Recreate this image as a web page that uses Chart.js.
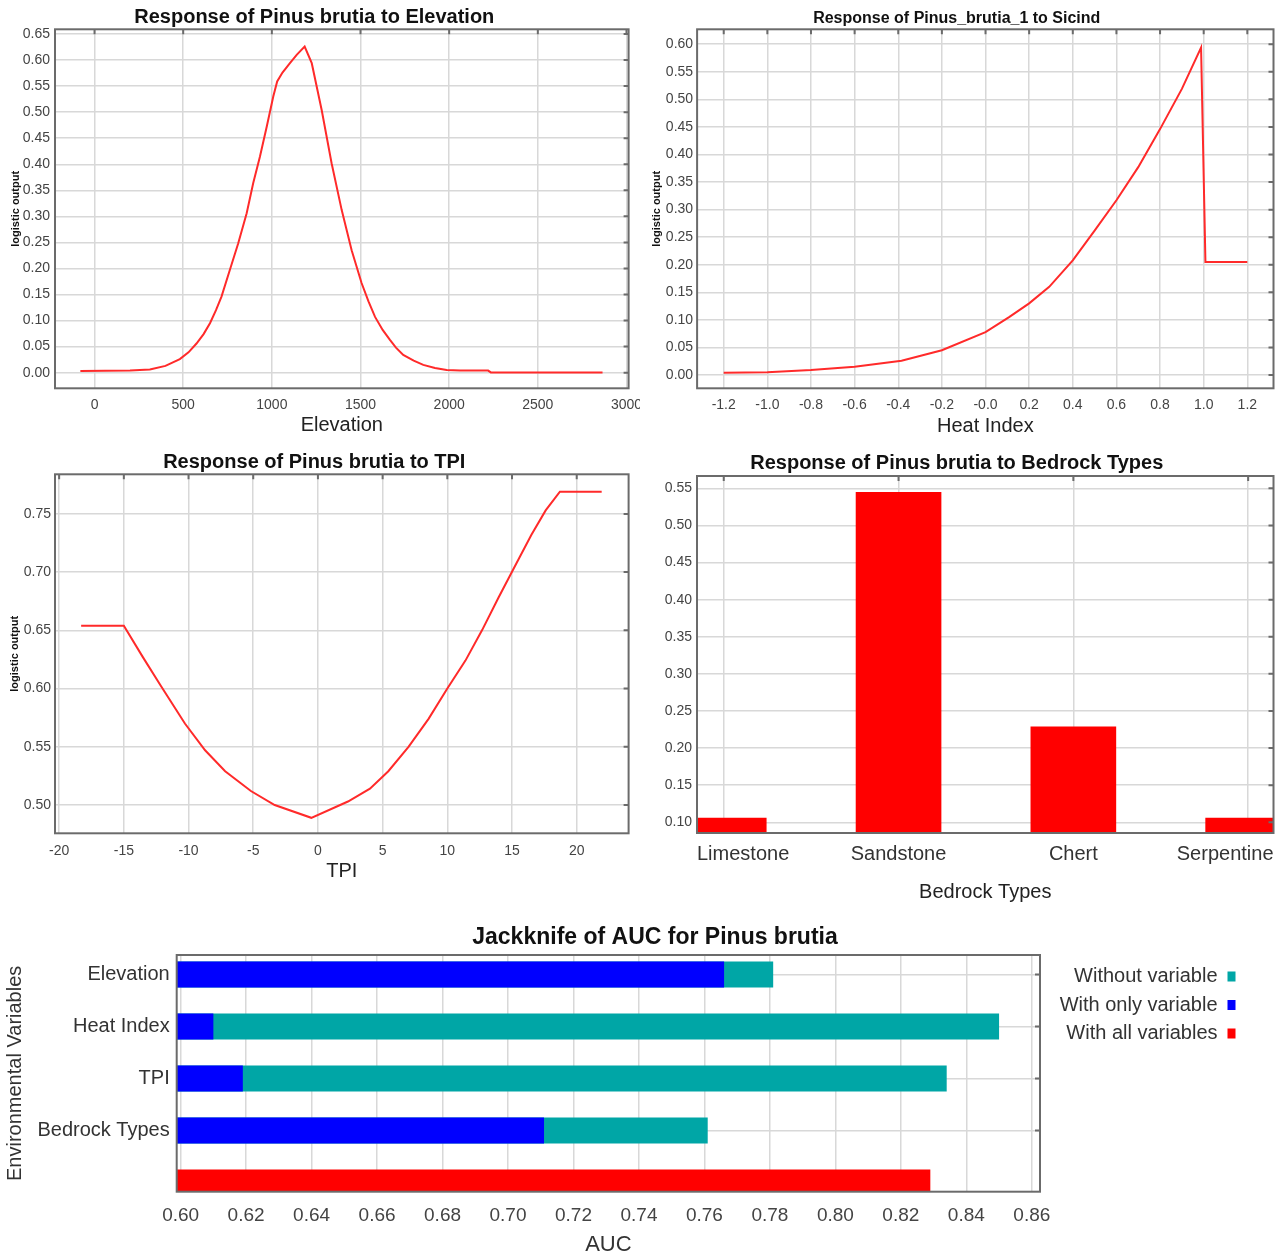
<!DOCTYPE html>
<html>
<head>
<meta charset="utf-8">
<title>Pinus brutia response curves</title>
<script src="https://cdn.jsdelivr.net/npm/chart.js@4.4.1/dist/chart.umd.min.js"></script>
<style>
  html, body { margin: 0; padding: 0; background: #ffffff; overflow: hidden; }
  canvas { position: absolute; }
</style>
</head>
<body>
<canvas id="elevChart" width="640" height="440" style="left:0px;top:0px"></canvas>
<canvas id="heatChart" width="637" height="440" style="left:640px;top:0px"></canvas>
<canvas id="tpiChart" width="640" height="450" style="left:0px;top:440px"></canvas>
<canvas id="bedrockChart" width="637" height="470" style="left:640px;top:440px"></canvas>
<canvas id="jackChart" width="1310" height="348" style="left:0px;top:910px"></canvas>
<script>
// values
var elevX = [-80, 200, 312, 400, 481, 530, 575, 615, 651, 685, 716, 763, 810, 858, 895, 933, 971, 1008, 1030, 1060, 1102, 1140,
             1185, 1225, 1281, 1337, 1394, 1450, 1506, 1545, 1582, 1625, 1666, 1700, 1741, 1800, 1854, 1920, 1986, 2061, 2220, 2235, 2865];
var elevY = [0.003, 0.004, 0.006, 0.013, 0.026, 0.039, 0.056, 0.074, 0.095, 0.120, 0.146, 0.197, 0.248, 0.306, 0.364, 0.415, 0.472, 0.530, 0.559, 0.576, 0.594, 0.610,
             0.626, 0.594, 0.504, 0.402, 0.312, 0.235, 0.172, 0.137, 0.107, 0.082, 0.063, 0.048, 0.034, 0.023, 0.015, 0.009, 0.005, 0.004, 0.004, 0.0005, 0.0005];

var heatX = [-1.2, -1.0, -0.8, -0.6, -0.385, -0.2, 0.0, 0.108, 0.2, 0.292, 0.4, 0.5, 0.6, 0.7, 0.8, 0.9, 0.988, 1.008, 1.2];
var heatY = [0.004, 0.005, 0.009, 0.015, 0.026, 0.045, 0.078, 0.105, 0.130, 0.160, 0.208, 0.262, 0.317, 0.377, 0.446, 0.519, 0.594, 0.205, 0.205];

var tpiX = [-18.3, -15.0, -13.53, -12.12, -10.28, -8.72, -7.17, -5.18, -3.34, -0.51, 2.32, 4.02, 5.44, 7.0, 8.55, 10.0,
            11.4, 12.68, 13.95, 15.08, 16.5, 17.6, 18.7, 21.93];
var tpiY = [0.654, 0.654, 0.627, 0.602, 0.570, 0.547, 0.529, 0.512, 0.500, 0.489, 0.503, 0.514, 0.529, 0.550, 0.574, 0.600,
            0.624, 0.650, 0.678, 0.702, 0.732, 0.753, 0.769, 0.769];

var bedrockTypes = ['Limestone', 'Sandstone', 'Chert', 'Serpentine'];
var bedrockY = [0.106, 0.545, 0.229, 0.106];

var jkVars = ['Elevation', 'Heat Index', 'TPI', 'Bedrock Types'];
var jkWithout = [0.781, 0.850, 0.834, 0.761];
var jkWithOnly = [0.766, 0.610, 0.619, 0.711];
var jkAll = 0.829;

// tick labels
var elevXTicks = [0, 500, 1000, 1500, 2000, 2500, 3000];
var elevYTicks = [0, 0.05, 0.10, 0.15, 0.20, 0.25, 0.30, 0.35, 0.40, 0.45, 0.50, 0.55, 0.60, 0.65];
var heatXTicks = [-1.2, -1.0, -0.8, -0.6, -0.4, -0.2, 0, 0.2, 0.4, 0.6, 0.8, 1.0, 1.2];
var heatXLabels = ['-1.2', '-1.0', '-0.8', '-0.6', '-0.4', '-0.2', '-0.0', '0.2', '0.4', '0.6', '0.8', '1.0', '1.2'];
var heatYTicks = [0, 0.05, 0.10, 0.15, 0.20, 0.25, 0.30, 0.35, 0.40, 0.45, 0.50, 0.55, 0.60];
var tpiXTicks = [-20, -15, -10, -5, 0, 5, 10, 15, 20];
var tpiYTicks = [0.50, 0.55, 0.60, 0.65, 0.70, 0.75];
var bedrockYTicks = [0.10, 0.15, 0.20, 0.25, 0.30, 0.35, 0.40, 0.45, 0.50, 0.55];
var jkXTicks = [0.60, 0.62, 0.64, 0.66, 0.68, 0.70, 0.72, 0.74, 0.76, 0.78, 0.80, 0.82, 0.84, 0.86];

var FONT = "'Liberation Sans', Arial, sans-serif";
var GRID = '#d8d8d8';
var FRAME = '#6b6b6b';
var TICK = '#444444';
var LINE_RED = '#ff2a2a';

Chart.defaults.font.family = FONT;

function tickList(values) {
  return function (scale) {
    scale.ticks = values.map(function (v) { return { value: v }; });
  };
}
// fixed axis size, and no extra room asked for labels hanging over the ends
function fixHeight(h) {
  return function (sc) { sc.height = h; sc.paddingLeft = 0; sc.paddingRight = 0; };
}
function fixWidth(w) {
  return function (sc) { sc.width = w; sc.paddingTop = 0; sc.paddingBottom = 0; };
}
function pairs(xs, ys) {
  return xs.map(function (x, i) { return { x: x, y: ys[i] }; });
}
function twoDec(v) { return v.toFixed(2); }
function plain(v) { return String(v); }

// box round the plot area, with small inner tick marks like the Maxent output
var framePlugin = {
  id: 'frame',
  afterDraw: function (chart, args, opts) {
    var a = chart.chartArea, ctx = chart.ctx, xs = chart.scales.x, ys = chart.scales.y;
    ctx.save();
    ctx.strokeStyle = FRAME;
    ctx.lineWidth = 2;
    ctx.beginPath();
    if (opts.top) {
      xs.ticks.forEach(function (t) {
        var px = xs.getPixelForValue(t.value);
        ctx.moveTo(px, a.top); ctx.lineTo(px, a.top + 5);
      });
    }
    if (opts.right) {
      ys.ticks.forEach(function (t) {
        var py = ys.getPixelForValue(t.value);
        ctx.moveTo(a.right, py); ctx.lineTo(a.right - 5, py);
      });
    }
    ctx.stroke();
    ctx.strokeRect(a.left, a.top, a.right - a.left, a.bottom - a.top);
    ctx.restore();
  }
};

function responseOptions(s) {
  return {
    responsive: false,
    animation: false,
    layout: { padding: { top: 0, left: 0, bottom: 0, right: s.padRight }, autoPadding: false },
    plugins: {
      legend: { display: false },
      tooltip: { enabled: false },
      title: {
        display: true, text: s.title, color: '#111111',
        font: { family: FONT, size: s.titleSize, weight: 'bold' },
        padding: s.titlePad
      },
      frame: { top: true, right: true }
    },
    scales: {
      x: {
        type: 'linear', min: s.xMin, max: s.xMax, offset: false,
        afterBuildTicks: tickList(s.xTicks),
        afterFit: fixHeight(s.xHeight),
        border: { display: false },
        grid: { color: GRID, lineWidth: 1.5, drawTicks: false, offset: false },
        ticks: {
          display: s.xTickDisplay !== false, autoSkip: false, maxRotation: 0,
          padding: s.xTickPad, color: TICK, font: { family: FONT, size: 14 }, callback: s.xFormat
        },
        title: {
          display: true, text: s.xTitle, color: '#222222',
          font: { family: FONT, size: 20 }, padding: { top: 0, bottom: s.xTitlePad }
        }
      },
      y: {
        type: 'linear', min: s.yMin, max: s.yMax,
        afterBuildTicks: tickList(s.yTicks),
        afterFit: fixWidth(s.yWidth),
        border: { display: false },
        grid: { color: GRID, lineWidth: 1.5, drawTicks: false },
        ticks: { autoSkip: false, padding: s.yTickPad, color: TICK, font: { family: FONT, size: 14 }, callback: twoDec },
        title: {
          display: !!s.yTitle, text: s.yTitle || '', color: '#111111',
          font: { family: FONT, size: 11, weight: 'bold' }, padding: { top: s.yTitlePad || 0, bottom: 0 }
        }
      }
    }
  };
}

function lineData(xs, ys) {
  return {
    datasets: [{
      data: pairs(xs, ys),
      borderColor: LINE_RED,
      borderWidth: 2,
      pointRadius: 0,
      tension: 0
    }]
  };
}

// Elevation
new Chart(document.getElementById('elevChart'), {
  type: 'line',
  data: lineData(elevX, elevY),
  plugins: [framePlugin],
  options: responseOptions({
    title: 'Response of Pinus brutia to Elevation', titleSize: 20, titlePad: { top: 5, bottom: 0.3 },
    padRight: 11.4, xHeight: 51.7, yWidth: 55,
    xMin: -223, xMax: 3012, xTicks: elevXTicks, xFormat: plain, xTickPad: 8, xTitle: 'Elevation', xTitlePad: 3,
    yMin: -0.030, yMax: 0.659, yTicks: elevYTicks, yTickPad: 5, yTitle: 'logistic output', yTitlePad: 9
  })
});

// Heat index
new Chart(document.getElementById('heatChart'), {
  type: 'line',
  data: lineData(heatX, heatY),
  plugins: [framePlugin],
  options: responseOptions({
    title: 'Response of Pinus_brutia_1 to Sicind', titleSize: 16, titlePad: { top: 9.4, bottom: 0.7 },
    padRight: 3.5, xHeight: 51.7, yWidth: 57.1,
    xMin: -1.322, xMax: 1.32, xTicks: heatXTicks,
    xFormat: function (v, i) { return heatXLabels[i]; }, xTickPad: 8, xTitle: 'Heat Index', xTitlePad: 2,
    yMin: -0.024, yMax: 0.627, yTicks: heatYTicks, yTickPad: 4, yTitle: 'logistic output', yTitlePad: 10.5
  })
});

// TPI
new Chart(document.getElementById('tpiChart'), {
  type: 'line',
  data: lineData(tpiX, tpiY),
  plugins: [framePlugin],
  options: responseOptions({
    title: 'Response of Pinus brutia to TPI', titleSize: 20, titlePad: { top: 10.3, bottom: 0 },
    padRight: 11.4, xHeight: 56.7, yWidth: 55,
    xMin: -20.32, xMax: 24.01, xTicks: tpiXTicks, xFormat: plain, xTickPad: 9, xTitle: 'TPI', xTitlePad: 6.3,
    yMin: 0.4757, yMax: 0.784, yTicks: tpiYTicks, yTickPad: 4, yTitle: 'logistic output', yTitlePad: 8.5
  })
});

// Bedrock types (categories sit on an index axis so the edge bars are cut like the original)
var bedrockLabels = {
  id: 'bedrockLabels',
  afterDraw: function (chart) {
    var a = chart.chartArea, ctx = chart.ctx, xs = chart.scales.x;
    ctx.save();
    ctx.font = '20px ' + FONT;
    ctx.fillStyle = '#333333';
    ctx.textAlign = 'center';
    ctx.textBaseline = 'middle';
    bedrockTypes.forEach(function (name, i) {
      var w = ctx.measureText(name).width;
      var cx = xs.getPixelForValue(i);
      cx = Math.max(a.left + w / 2, Math.min(a.right - w / 2, cx));
      ctx.fillText(name, cx, a.bottom + 21);
    });
    ctx.restore();
  }
};

var bedrockOpts = responseOptions({
  title: 'Response of Pinus brutia to Bedrock Types', titleSize: 20, titlePad: { top: 11.3, bottom: 0.7 },
  padRight: 3.5, xHeight: 77, yWidth: 57,
  xMin: -0.153, xMax: 3.145, xTicks: bedrockTypes.map(function (t, i) { return i; }),
  xTickDisplay: false, xFormat: plain, xTickPad: 0, xTitle: 'Bedrock Types', xTitlePad: 5.3,
  yMin: 0.0856, yMax: 0.5666, yTicks: bedrockYTicks, yTickPad: 5
});

new Chart(document.getElementById('bedrockChart'), {
  type: 'bar',
  data: {
    datasets: [{
      data: bedrockTypes.map(function (t, i) { return { x: i, y: bedrockY[i] }; }),
      backgroundColor: '#ff0000',
      borderWidth: 0,
      barPercentage: 0.49,
      categoryPercentage: 1,
      clip: 0
    }]
  },
  plugins: [framePlugin, bedrockLabels],
  options: bedrockOpts
});

// Jackknife
var jkLegendPlace = {
  id: 'jkLegendPlace',
  afterInit: function (chart, args, opts) {
    var lg = chart.legend, fit = lg.fit;
    lg.fit = function () { fit.call(this); this.width = opts.width; };
  },
  afterLayout: function (chart, args, opts) {
    var lg = chart.legend;
    lg.width = opts.right - lg.left;
    lg.right = opts.right;
    lg.top += opts.down;
    lg.bottom += opts.down;
  }
};

new Chart(document.getElementById('jackChart'), {
  type: 'bar',
  data: {
    datasets: [
      { label: 'Without variable', backgroundColor: '#00a6a6', order: 1,
        data: jkVars.map(function (v, i) { return { x: jkWithout[i], y: i }; }) },
      { label: 'With only variable', backgroundColor: '#0000ff', order: 0,
        data: jkVars.map(function (v, i) { return { x: jkWithOnly[i], y: i }; }) },
      { label: 'With all variables', backgroundColor: '#ff0000', order: 2,
        data: [{ x: jkAll, y: jkVars.length }] }
    ]
  },
  plugins: [framePlugin, jkLegendPlace],
  options: {
    responsive: false,
    animation: false,
    indexAxis: 'y',
    datasets: { bar: { grouped: false, barPercentage: 0.5, categoryPercentage: 1, borderWidth: 0, clip: 0 } },
    layout: { padding: 0, autoPadding: false },
    plugins: {
      tooltip: { enabled: false },
      title: {
        display: true, text: 'Jackknife of AUC for Pinus brutia', color: '#111111',
        font: { family: FONT, size: 23, weight: 'bold' }, padding: { top: 14, bottom: 3.4 }
      },
      legend: {
        position: 'right', align: 'start', fullSize: false, rtl: true,
        labels: {
          boxWidth: 8, boxHeight: 10, padding: 8.5, color: '#333333',
          font: { family: FONT, size: 20 },
          sort: function (a, b) { return a.datasetIndex - b.datasetIndex; }
        }
      },
      jkLegendPlace: { width: 270, right: 1244, down: 3 },
      frame: { top: false, right: true }
    },
    scales: {
      x: {
        type: 'linear', min: 0.5988, max: 0.8625,
        afterBuildTicks: tickList(jkXTicks),
        afterFit: fixHeight(66.3),
        border: { display: false },
        grid: { color: GRID, lineWidth: 1.5, drawTicks: false },
        ticks: { autoSkip: false, maxRotation: 0, padding: 13, color: TICK, font: { family: FONT, size: 19 }, callback: twoDec },
        title: { display: true, text: 'AUC', color: '#333333', font: { family: FONT, size: 22 }, padding: { top: 0, bottom: 0 } }
      },
      y: {
        type: 'linear', reverse: true, min: -0.375, max: 4.177, offset: false,
        afterBuildTicks: tickList(jkVars.map(function (v, i) { return i; })),
        afterFit: fixWidth(176.7),
        border: { display: false },
        grid: { color: GRID, lineWidth: 1.5, drawTicks: false, offset: false },
        ticks: { autoSkip: false, padding: 7, color: '#333333', font: { family: FONT, size: 20 },
                 callback: function (v, i) { return jkVars[i]; } },
        title: { display: true, text: 'Environmental Variables', color: '#333333',
                 font: { family: FONT, size: 20 }, padding: { top: 3, bottom: 0 } }
      }
    }
  }
});
</script>
</body>
</html>
